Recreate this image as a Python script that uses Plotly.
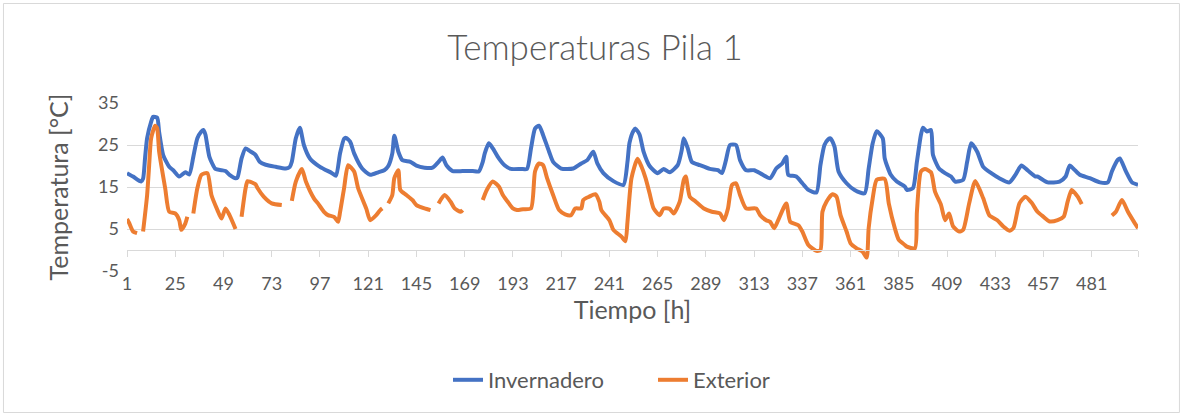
import plotly.graph_objects as go

# ---- data (hour, °C); None = gap ----
inv_hours = [1, 4, 8, 9, 10, 11, 13, 14, 16, 17, 19, 22, 24, 27, 30, 32, 34, 36, 38, 39, 40, 42, 45, 48, 50, 52, 55, 56,
             58, 60, 62, 64, 65, 67, 70, 75, 80, 82, 83, 85, 87, 89, 92, 97, 103, 105, 107, 109, 110, 112, 114, 118,
             122, 126, 129, 131, 133, 134, 136, 138, 142, 145, 149, 153, 156, 158, 160, 163, 168, 173, 176, 178, 179,
             181, 183, 186, 189, 192, 197, 200, 202, 204, 206, 208, 211, 213, 217, 223, 227, 230, 233, 235, 238, 243,
             248, 250, 251, 253, 254, 256, 258, 261, 265, 268, 271, 275, 277, 278, 280, 282, 286, 291, 295, 297, 299,
             301, 304, 306, 309, 313, 317, 321, 324, 327, 329, 330, 334, 337, 340, 344, 346, 348, 350, 351, 353, 355,
             359, 363, 368, 370, 372, 374, 377, 378, 381, 384, 388, 389, 392, 394, 396, 397, 399, 401, 402, 405, 408,
             411, 413, 417, 419, 421, 424, 427, 431, 435, 440, 443, 446, 449, 453, 454, 459, 465, 468, 470, 472, 475,
             480, 485, 489, 491, 494, 495, 498, 501, 504]
inv_temp = [18.3, 17.5, 16.3, 17, 22, 26.6, 30.5, 31.7, 31.5, 28, 22.6, 19.8, 19, 17.5, 18.5, 18, 22.2, 26.6, 28.2, 28.6,
            27.5, 22.2, 19.3, 19, 18.8, 17.9, 17.1, 17.3, 21.8, 24.2, 23.6, 23, 22.6, 21, 20.3, 19.8, 19.4, 19.8, 21,
            26.6, 29.1, 25, 21.8, 19.8, 18.3, 17.7, 23, 26.5, 26.7, 25.8, 23, 19.4, 17.9, 18.5, 19, 20, 23, 27.2, 23.4,
            21.4, 21, 20.1, 19.6, 19.6, 21, 22, 20.1, 18.8, 18.8, 18.8, 18.7, 21, 23, 25.4, 24.2, 21.8, 20.1, 19.3,
            19.3, 19.3, 24.2, 28.9, 29.6, 27.4, 23.4, 21, 19.4, 19.4, 20.6, 21.4, 23.4, 20.6, 18.3, 16.4, 15.5, 21,
            25.5, 28.4, 28.9, 27.5, 23.4, 20, 18.3, 19.3, 18.5, 20.2, 23.8, 26.6, 24.2, 21, 20.2, 19.3, 19, 18.3, 21.4,
            25, 25, 21.4, 19, 19, 18, 17.1, 19.4, 20.6, 22.2, 17.9, 17.5, 15.9, 14.3, 13.7, 20.2, 25, 26.4, 26.6, 24.6,
            18.7, 15.9, 14.3, 13.5, 19.4, 25.4, 28.3, 26.6, 21.8, 17.9, 16.3, 15.1, 14.3, 14.7, 21, 27.4, 29.1, 28.2,
            28.6, 22.6, 19.4, 18.3, 17.5, 16.3, 16.7, 21, 25.4, 23.4, 19.8, 18.3, 17.1, 16.1, 17.9, 20.1, 19, 17.5,
            17.5, 16.1, 16.3, 17.5, 20.1, 19.3, 17.9, 17.1, 16.1, 16.1, 18.7, 21.5, 21.8, 18.7, 16.1, 15.5]

ext_hours = [1, 2, 4, 6, 7, 9, 11, 12, 13, 15, 16, 17, 20, 22, 25, 27, 28, 30, 31, 33, 34, 36, 38, 41, 43, 46, 48, 50,
             52, 55, 56, 58, 60, 61, 64, 65, 66, 69, 73, 78, 80, 83, 85, 88, 90, 94, 96, 99, 101, 104, 106, 107, 109,
             111, 114, 116, 120, 122, 125, 127, 128, 129, 131, 133, 134, 136, 137, 140, 143, 145, 149, 152, 154, 156,
             159, 162, 164, 167, 168, 172, 178, 180, 183, 186, 188, 191, 193, 195, 198, 202, 204, 206, 208, 210, 213,
             216, 219, 222, 224, 227, 228, 231, 234, 236, 237, 241, 243, 247, 249, 250, 252, 255, 257, 259, 261, 263,
             266, 268, 271, 273, 276, 278, 279, 281, 284, 288, 292, 296, 298, 300, 302, 304, 306, 309, 314, 316, 319,
             321, 323, 325, 329, 331, 335, 337, 340, 344, 346, 347, 349, 352, 354, 356, 359, 361, 364, 367, 369, 370,
             372, 374, 378, 380, 383, 385, 388, 389, 393, 394, 396, 398, 401, 403, 406, 408, 410, 412, 415, 417, 420,
             423, 427, 430, 434, 437, 440, 442, 445, 448, 451, 454, 457, 460, 464, 467, 469, 471, 474, 476, 483, 491,
             493, 496, 499, 502, 504]
ext_temp = [7.4, 6.5, 4.4, 4, None, 4.4, 13, 20, 26.6, 29.6, 29, 23.4, 14.7, 9.1, 8.7, 7.1, 4.8, 6.3, 7.9, None, 8.7,
            14.7, 17.9, 18.3, 13.1, 9.5, 7.5, 9.9, 8.3, 5, None, 7.9, 14.7, 16.4, 15.9, 15.6, 14.7, 12.7, 11.1, 10.7,
            None, 11.7, 16.3, 19.3, 16.3, 12.3, 11.1, 9.1, 8.3, 7.9, 6.7, 9, 14.7, 20.2, 18.7, 14.7, 9.9, 7.1, 8.3,
            9.5, 9.9, None, 11.1, 13.1, 17.1, 19, 14.3, 13.1, 11.9, 10.7, 9.9, 9.5, None, 11.1, 13.1, 11.5, 9.9, 9.1,
            9.5, None, 11.9, 14.3, 16.3, 15.1, 13.1, 11.1, 9.9, 9.5, 9.7, 9.9, 18.7, 20.6, 20.2, 17.1, 13.1, 9.5, 8.5,
            8.3, 9.9, 9.9, 11.9, 12.7, 13.3, 11.5, 9.5, 7.1, 4.8, 3.2, 2.1, 6.7, 17.1, 21.7, 19.8, 17.1, 13.5, 9.9, 8.3,
            9.9, 9.8, 8.7, 11.5, 16.7, 17.5, 12.7, 11.5, 9.9, 9.1, 8.7, 7.1, 9.9, 15.5, 15.9, 13.1, 9.9, 9.9, 8.3, 7.1,
            6.7, 5.2, 7.1, 11.1, 6.7, 5.9, 4.4, 1.2, -0.2, 0, 9.1, 11.5, 13.3, 12.7, 8.3, 4.4, 1.6, 0.4, -0.4, -1.8,
            5.2, 12.3, 16.7, 16.9, 11.1, 5.2, 2.4, 1.2, 0.8, 0.4, 9.1, 18.7, 19.3, 18.5, 13.9, 10.7, 7.1, 8.7, 5.6,
            4.4, 4.8, 11.1, 16.4, 12.3, 8.3, 7.1, 5.6, 4.6, 5.2, 11.1, 12.7, 11.3, 9.1, 7.9, 6.8, 7.1, 7.9, 11.5, 14.3,
            12.7, 10.9, None, 8.2, 9.1, 11.9, 9.1, 6.7, 5.2]

x_tick_vals = list(range(1, 482, 24))
x_tick_text = [str(v) for v in x_tick_vals]
y_tick_vals = [-5, 5, 15, 25, 35]
y_tick_text = ["-5", "5", "15", "25", "35"]

FONT = "Lato"
GREY = "#595959"
GRID = "#d9d9d9"

fig = go.Figure()
fig.add_trace(go.Scatter(x=inv_hours, y=inv_temp, mode="lines", name="Invernadero",
                         line=dict(color="#4472C4", width=4, shape="spline", smoothing=0.6),
                         connectgaps=False))
fig.add_trace(go.Scatter(x=ext_hours, y=ext_temp, mode="lines", name="Exterior",
                         line=dict(color="#ED7D31", width=4, shape="spline", smoothing=0.6),
                         connectgaps=False))
# helper trace so the axis through y = 0 (with tick marks) is drawn
fig.add_trace(go.Scatter(x=[None], y=[None], xaxis="x2", yaxis="y", showlegend=False, hoverinfo="skip"))

fig.update_layout(
    width=1183, height=416,
    margin=dict(l=127, r=45, t=103, b=145, autoexpand=False),
    paper_bgcolor="white", plot_bgcolor="white",
    font=dict(family=FONT, color=GREY, size=18),
    title=dict(text="Temperaturas Pila 1", x=0.503, xanchor="center", y=0.886, yanchor="middle",
               font=dict(family=FONT, size=35, color=GREY, weight=300)),
    xaxis=dict(range=[1, 504], tickmode="array", tickvals=x_tick_vals, ticktext=x_tick_text,
               showgrid=False, zeroline=False, showline=False, ticks="", automargin=False,
               tickfont=dict(size=18, color=GREY),
               title=dict(text="Tiempo [h]", font=dict(size=25, color=GREY), standoff=6)),
    xaxis2=dict(overlaying="x", anchor="free", position=0.125, range=[1, 504], automargin=False,
                tickmode="array", tickvals=x_tick_vals + [504], showticklabels=False,
                ticks="outside", ticklen=6, tickcolor=GRID, tickwidth=1,
                showline=True, linecolor=GRID, linewidth=1, showgrid=False, zeroline=False),
    yaxis=dict(range=[-5, 35], tickmode="array", tickvals=y_tick_vals, ticktext=y_tick_text,
               automargin=False,
               showgrid=True, gridcolor=GRID, gridwidth=1, zeroline=False, showline=False,
               ticks="", ticklabelstandoff=7, tickfont=dict(size=18, color=GREY),
               title=dict(text="Temperatura [°C]", font=dict(size=25, color=GREY), standoff=22)),
    legend=dict(orientation="h", xref="container", yref="container",
                x=448 / 1183, xanchor="left", y=1 - 380 / 416, yanchor="middle",
                entrywidth=160, entrywidthmode="pixels",
                font=dict(size=22, color=GREY), bgcolor="rgba(0,0,0,0)"),
    shapes=[dict(type="rect", xref="paper", yref="paper",
                 x0=-0.1222, x1=1.0410, y0=-0.8423, y1=1.5923,
                 line=dict(color=GRID, width=1), fillcolor="rgba(0,0,0,0)", layer="below")],
    showlegend=True,
)

fig.write_html("out.html", config={"displayModeBar": False},
               post_script="document.body.style.margin='0';document.body.style.padding='0';")
